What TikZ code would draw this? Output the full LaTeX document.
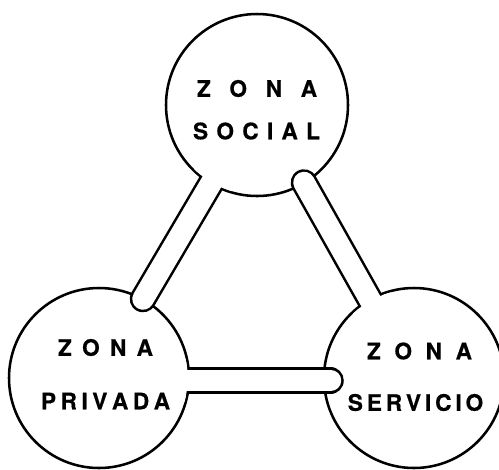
\documentclass[tikz,border=0pt]{standalone}
\usepackage{fontspec}
\setmainfont{TeX Gyre Heros}[BoldFeatures={FakeBold=0.6}]
\usetikzlibrary{calc}
\tikzset{
  zone/.style={circle, draw=black, fill=white, line width=1.9pt, inner sep=0pt},
  lbl/.style={font=\bfseries\fontsize{17}{19}\selectfont, inner sep=0pt, text=black},
  barout/.style={line width=19.9pt, line cap=round, draw=black},
  barin/.style={line width=16.1pt, line cap=round, draw=white},
}
\begin{document}
\begin{tikzpicture}[x=0.75pt,y=-0.75pt]
\useasboundingbox (0,0) rectangle (499,469);
% zones
\node[zone, minimum size=136.5pt] (social) at (257,105) {};
\node[zone, minimum size=135pt] (privada) at (99,378) {};
\node[zone, minimum size=135pt] (servicio) at (414,378) {};
% bar ends
\coordinate (capL) at (143,299);
\coordinate (capR) at (304,182.5);
\coordinate (capH) at (330.5,380.5);
\coordinate (pL) at ($(social.center)!57.75pt!(capL)$);
\coordinate (pR) at ($(servicio.center)!57pt!(capR)$);
\coordinate (pH) at ($(privada.center |- capH)!57pt!(capH)$);
% social -- privada
\draw[barout] (capL) -- (pL);
\draw[barin] (capL) -- (pL);
\begin{scope}
  \clip (pL) circle (18pt);
  \fill[white] (social.center) circle (67.3pt);
\end{scope}
% social -- servicio
\draw[barout] (capR) -- (pR);
\draw[barin] (capR) -- (pR);
\begin{scope}
  \clip (pR) circle (18pt);
  \fill[white] (servicio.center) circle (66.5pt);
\end{scope}
% privada -- servicio
\draw[barout] (capH) -- (pH);
\draw[barin] (capH) -- (pH);
\begin{scope}
  \clip (pH) circle (18pt);
  \fill[white] (privada.center) circle (66.5pt);
\end{scope}
% labels
\node[lbl] (s1) at (257,88.5) {Z\kern14pt O\kern14pt N\kern14pt A};
\node[lbl] (s2) at (256.5,131) {S\kern6.2pt O\kern6.2pt C\kern6.2pt I\kern6.2pt A\kern6.2pt L};
\node[lbl] (p1) at (105.5,347.5) {Z\kern7.7pt O\kern7.7pt N\kern7.7pt A};
\node[lbl] (p2) at (105.5,401) {P\kern3.4pt R\kern3.4pt I\kern3.4pt V\kern3.4pt A\kern3.4pt D\kern3.4pt A};
\node[lbl] (v1) at (419.5,351) {Z\kern10.2pt O\kern10.2pt N\kern10.2pt A};
\node[lbl] (v2) at (415.5,402.5) {S\kern2.9pt E\kern2.9pt R\kern2.9pt V\kern2.9pt I\kern2.9pt C\kern2.9pt I\kern2.9pt O};
\end{tikzpicture}
\end{document}
